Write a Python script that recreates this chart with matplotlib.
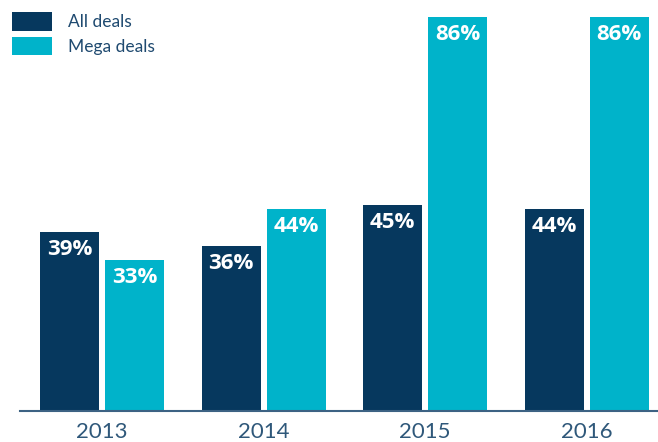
import matplotlib.pyplot as plt
import numpy as np

years = ["2013", "2014", "2015", "2016"]
all_deals = [39, 36, 45, 44]
mega_deals = [33, 44, 86, 86]

NAVY = "#06385e"
CYAN = "#00b3ca"
TICK_COLOR = "#2f587a"

plt.rcParams['font.family'] = ['Lato', 'DejaVu Sans']

fig = plt.figure(figsize=(6.58, 4.42), dpi=100)
ax = fig.add_axes([20 / 658, 31 / 442, 638 / 658, 411 / 442])

x = np.arange(len(years))
w = 0.365
off = 0.201
b1 = ax.bar(x - off, all_deals, w, color=NAVY, label="All deals")
b2 = ax.bar(x + off, mega_deals, w, color=CYAN, label="Mega deals")

# value labels sit inside the top of each bar
for bars, vals in ((b1, all_deals), (b2, mega_deals)):
    for bar, v in zip(bars, vals):
        ax.annotate(f"{v}%", (bar.get_x() + bar.get_width() / 2, v),
                    xytext=(0, -5), textcoords="offset points",
                    ha="center", va="top", color="white",
                    fontsize=16, fontweight="bold",
                    family=["Open Sans", "DejaVu Sans"])

ax.set_xlim(-0.508, 3.442)
ax.set_ylim(0, 89.7)
ax.set_xticks(x)
ax.set_xticklabels(years, fontsize=16, color=TICK_COLOR)
ax.tick_params(axis="x", length=0, pad=8)
ax.set_yticks([])
for s in ("top", "right", "left"):
    ax.spines[s].set_visible(False)
ax.spines["bottom"].set_color("#3d6283")
ax.spines["bottom"].set_linewidth(1.5)

leg = ax.legend(loc="upper left", bbox_to_anchor=(-20 / 638, 1.0), frameon=False,
                fontsize=12.5, handlelength=2.3, handleheight=1.27,
                handletextpad=0.92, labelspacing=0.35, borderpad=0.7,
                borderaxespad=0)
for t in leg.get_texts():
    t.set_color("#1f4a70")

fig.savefig("out.png", dpi=100)
